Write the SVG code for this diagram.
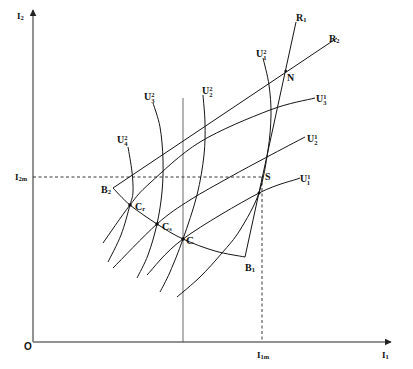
<svg xmlns="http://www.w3.org/2000/svg" width="413" height="369" viewBox="0 0 413 369">
<defs>
<marker id="arr" viewBox="0 0 10 10" refX="9" refY="5" markerWidth="7" markerHeight="7" orient="auto" markerUnits="userSpaceOnUse">
<path d="M0,0 L10,5 L0,10 z" fill="#222"/>
</marker>
<style>
.ax{stroke:#6e6e6e;stroke-width:1.5;fill:none}
.ln{stroke:#151515;stroke-width:1;fill:none}
.th{stroke:#444;stroke-width:0.8;fill:none}
.ds{stroke:#222;stroke-width:0.9;fill:none;stroke-dasharray:3 2.5}
text{font-family:"Liberation Serif","DejaVu Serif",serif;font-weight:bold;fill:#111;font-size:10px}
.sm{font-size:6.5px}
.pt{fill:#111}
</style>
</defs>
<rect width="413" height="369" fill="#fff"/>
<g id="axes">
<line class="ax" x1="33" y1="342" x2="33" y2="10" marker-end="url(#arr)"/>
<line class="ax" x1="33" y1="342" x2="391" y2="342" marker-end="url(#arr)"/>
<text x="17" y="19" style="font-size:9px">I<tspan class="sm" dy="1">2</tspan></text>
<text x="24" y="350" style="font-family:'Liberation Sans',sans-serif;font-size:10px">O</text>
<text x="382" y="358" style="font-size:9px">I<tspan class="sm" dy="1">1</tspan></text>
<text x="15" y="180" style="font-size:9px">I<tspan class="sm" dy="1">2m</tspan></text>
<text x="257" y="358" style="font-size:9px">I<tspan class="sm" dy="1">1m</tspan></text>
</g>
<g id="connectors">
<line class="ds" x1="33" y1="177" x2="262" y2="177"/>
<line class="ds" x1="262" y1="177" x2="262" y2="342"/>
<line class="th" x1="183" y1="98" x2="183" y2="342"/>
<line id="R2" class="ln" x1="113" y1="188" x2="337" y2="38"/>
<line id="R1" class="ln" x1="296" y1="22" x2="245" y2="257"/>
<path id="contract" class="ln" d="M113,188 C115.8,190.8 122.7,199 130,205 S148.2,218.3 157,224 S173.3,234.5 183,239 S204.7,248 215,251 S240,256 245,257"/>
<path id="U1_1" class="ln" d="M147,275 C153,269 164,253 183,239 C202,225 240,203 259,193 C279,183 293,181 300,178"/>
<path id="U1_2" class="ln" d="M113,268 C120.3,260.7 144.2,235.3 157,224 S177.8,207.8 190,200 S217.2,184.2 230,177 S254.5,163.7 267,157 S298.7,140.3 305,137"/>
<path id="U1_3" class="ln" d="M103,243 C107.5,236.7 122.2,215 130,205 S138.3,193.5 150,183 S180,154.2 200,142 S250.8,117.3 270,110 S307.5,100 315,98"/>
<path id="U2_a" class="ln" d="M128,147 C128.7,151.2 131.2,164.5 132,172 S133.3,186.5 133,192 S132,197.8 130,205 S124.7,225.5 121,235 S110.2,257.5 108,262"/>
<path id="U2_b" class="ln" d="M153,103 C154.2,107 158.3,117.5 160,127 S162.7,149.2 163,160 S163,181.3 162,192 S159.3,213.5 157,224 S151.3,246 148,255 S138.8,274.2 137,278"/>
<path id="U2_c" class="ln" d="M203,95 C203.3,99.7 204.8,113 205,123 S205.3,143 204,155 S200.5,181 197,195 S187.5,226.2 183,239 S173.8,263.2 170,272 S161.7,288.7 160,292"/>
<path id="U2_d" class="ln" d="M263,58 C264,62.5 267.7,75.5 269,85 S271.2,104.2 271,115 S270,137 268,150 S263.7,179.7 259,193 S246.2,220 240,230 S228.7,245.2 222,253 S207.5,269.7 200,277 S180.8,293.7 177,297"/>
</g>
<g id="nodes">
<g id="B2"><text x="101" y="193">B<tspan class="sm" dy="1">2</tspan></text></g>
<g id="Cr"><circle class="pt" cx="130" cy="205" r="1.8"/><text x="135" y="210">C<tspan class="sm" dy="1">r</tspan></text></g>
<g id="Cs"><circle class="pt" cx="157" cy="224" r="1.8"/><text x="162" y="230">C<tspan class="sm" dy="1">s</tspan></text></g>
<g id="C"><circle class="pt" cx="183" cy="239" r="1.8"/><text x="186" y="244" style="font-size:11px">C</text></g>
<g id="B1"><text x="245" y="271">B<tspan class="sm" dy="1">1</tspan></text></g>
<g id="S"><circle class="pt" cx="259" cy="193" r="1.5"/><text x="265" y="180">S</text></g>
<g id="N"><circle class="pt" cx="285.7" cy="71" r="1.3"/><text x="287" y="81">N</text></g>
<g id="lR1"><text x="296" y="21">R<tspan class="sm" dy="1">1</tspan></text></g>
<g id="lR2"><text x="329" y="42">R<tspan class="sm" dy="1">2</tspan></text></g>
<g id="lU2_4"><text x="117" y="143">U<tspan class="sm" dy="-3">2</tspan><tspan class="sm" dx="-3.3" dy="6">4</tspan></text></g>
<g id="lU2_3"><text x="144" y="100">U<tspan class="sm" dy="-3">2</tspan><tspan class="sm" dx="-3.3" dy="6">3</tspan></text></g>
<g id="lU2_2"><text x="202" y="94">U<tspan class="sm" dy="-3">2</tspan><tspan class="sm" dx="-3.3" dy="6">2</tspan></text></g>
<g id="lU2_1"><text x="256" y="57">U<tspan class="sm" dy="-3">2</tspan><tspan class="sm" dx="-3.3" dy="6">1</tspan></text></g>
<g id="lU1_3"><text x="316" y="102">U<tspan class="sm" dy="-3">1</tspan><tspan class="sm" dx="-3.3" dy="6">3</tspan></text></g>
<g id="lU1_2"><text x="307" y="142">U<tspan class="sm" dy="-3">1</tspan><tspan class="sm" dx="-3.3" dy="6">2</tspan></text></g>
<g id="lU1_1"><text x="300" y="182">U<tspan class="sm" dy="-3">1</tspan><tspan class="sm" dx="-3.3" dy="6">1</tspan></text></g>
</g>
</svg>
